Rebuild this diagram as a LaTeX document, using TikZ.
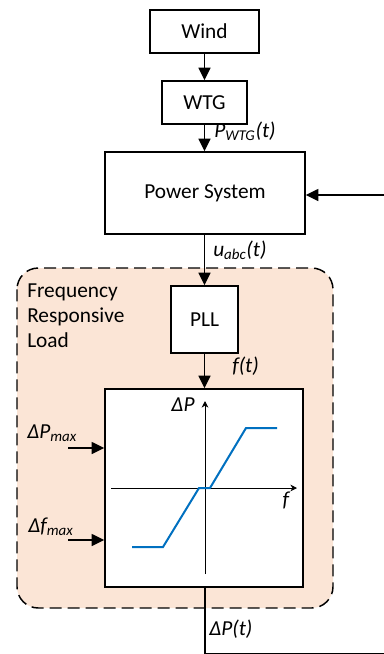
\documentclass[tikz,border=0pt]{standalone}
\usepackage{fontspec}
\setmainfont{Carlito}
\usetikzlibrary{arrows.meta}
\definecolor{peach}{HTML}{FBE5D6}
\definecolor{curveblue}{HTML}{0070C0}
\tikzset{
  blk/.style={draw=black, line width=1.1pt, fill=white, inner sep=0pt, font=\fontsize{16}{19}\selectfont},
  conn/.style={line width=1.1pt, -{Triangle[length=9.5pt,width=9pt]}},
  lbl/.style={inner sep=0pt, font=\fontsize{16}{19}\selectfont\itshape},
  axis/.style={line width=0.6pt, -{Stealth[length=5pt,width=5pt]}},
}
\begin{document}
\begin{tikzpicture}[x=0.75pt,y=-0.75pt]
\useasboundingbox (0,0) rectangle (384,654);
\clip (0,0) rectangle (384,654);
% region
\draw[dashed, dash pattern=on 9pt off 4.5pt, line width=1.1pt, fill=peach, rounded corners=16pt] (17,268) rectangle (333,608);
\node[inner sep=0pt, anchor=north west, align=left, font=\fontsize{16}{18.5}\selectfont] (rtxt) at (27,284) {Frequency\\Responsive\\Load};
% blocks
\node[blk, minimum width=81.75pt, minimum height=32.25pt] (wind) at (204.5,31.5) {Wind};
\node[blk, minimum width=63.75pt, minimum height=32.25pt] (wtg) at (204.5,102.5) {WTG};
\node[blk, minimum width=150pt, minimum height=61.5pt] (ps) at (205,193) {Power System};
\node[blk, minimum width=50.25pt, minimum height=50.25pt] (pll) at (204.5,319.5) {PLL};
\node[blk, minimum width=148.5pt, minimum height=148.5pt] (graph) at (204,488) {};
% connectors
\draw[conn] (wind.south) -- (wtg.north);
\draw[conn] (wtg.south) -- (ps.north -| wtg.south);
\draw[conn] (ps.south -| pll.north) -- (pll.north);
\draw[conn] (pll.south) -- (graph.north -| pll.south);
\coordinate (inP) at (68,448);
\coordinate (inF) at (68,540);
\draw[conn] (inP) -- (inP -| graph.west);
\draw[conn] (inF) -- (inF -| graph.west);
\coordinate (cbl) at (205,654);
\coordinate (cbr) at (384.5,654);
\coordinate (ctr) at (384.5,195);
\draw[line width=1.1pt] (graph.south -| cbl) -- (cbl) -- (cbr) -- (ctr);
\draw[conn] (ctr) -- (ps.east |- ctr);
% labels
\node[lbl, anchor=west] (lpw) at (214,131) {P\textsubscript{WTG}(t)};
\node[lbl, anchor=west] (lu) at (213,250) {u\textsubscript{abc}(t)};
\node[lbl, anchor=west] (lf) at (232,366) {f(t)};
\node[lbl, anchor=west] (ldp) at (209,629) {ΔP(t)};
\node[lbl, anchor=west] (lpm) at (27,433) {ΔP\textsubscript{max}};
\node[lbl, anchor=west] (lfm) at (28,527) {Δf\textsubscript{max}};
% graph content
\coordinate (vb) at (205,574);
\coordinate (vt) at (205,401);
\coordinate (hl) at (111,488);
\coordinate (hr) at (297,488);
\draw[axis] (vb) -- (vt);
\draw[axis] (hl) -- (hr);
\node[lbl] (ldP) at (183,405) {ΔP};
\node[lbl] (lfa) at (286,500) {f};
\draw[curveblue, line width=1.5pt] (132,547) -- (163,547) -- (199,488) -- (210,488) -- (246,428) -- (277,428);
\end{tikzpicture}
\end{document}
